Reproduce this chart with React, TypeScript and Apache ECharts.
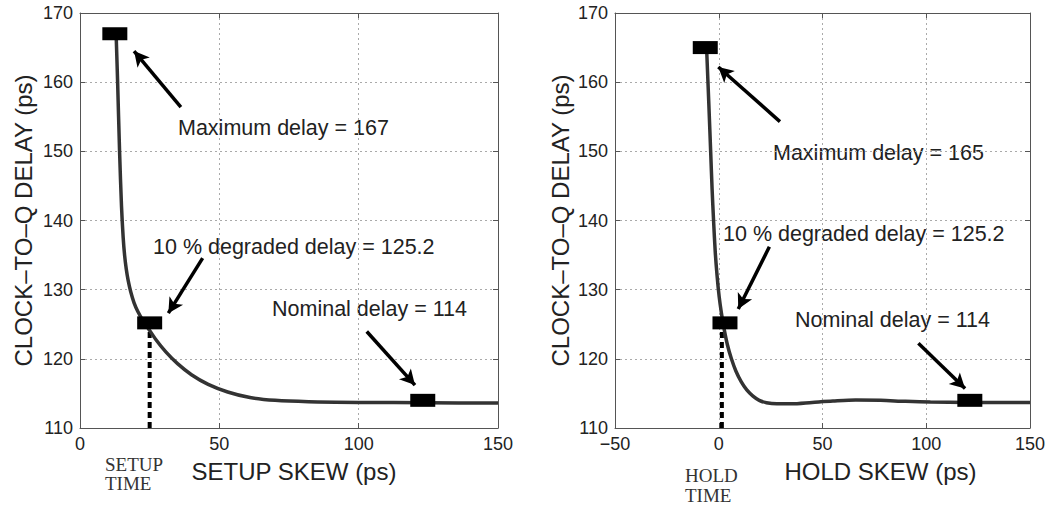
import React, { useEffect, useRef } from "react";
import * as echarts from "echarts";

// Setup-skew sweep (ps) and resulting clock-to-Q delay (ps)
const setupSkew = [13.0, 13.5, 14.2, 14.9, 15.5, 16.0, 16.6, 17.3, 18.2, 19.4, 20.8, 22.5, 24.5, 27.2, 30.8, 35, 40, 46, 53, 61, 70, 82, 100, 125, 150];
const setupDelay = [166.5, 160, 150, 142, 137.5, 135.0, 133.0, 131.3, 129.7, 128.1, 126.8, 125.6, 124.4, 122.8, 121.0, 119.3, 117.7, 116.3, 115.2, 114.4, 114.0, 113.8, 113.7, 113.65, 113.6];

// Hold-skew sweep (ps) and resulting clock-to-Q delay (ps)
const holdSkew = [-5.8, -4.8, -3.9, -3.2, -2.5, -1.7, -0.8, 0.2, 1.3, 2.6, 4.2, 6.1, 8.3, 10.8, 13.5, 16.5, 19.5, 23, 28, 35, 45, 55, 66, 78, 90, 102, 120, 150];
const holdDelay = [164.5, 157, 150, 144.5, 140, 135.5, 132, 129, 126.6, 124.3, 122.0, 120.0, 118.2, 116.7, 115.5, 114.6, 114.0, 113.65, 113.5, 113.5, 113.7, 113.9, 114.05, 114.0, 113.85, 113.75, 113.7, 113.7];

// Highlighted points: maximum, 10 % degraded and nominal delay
const setupMarkX = [12.5, 25, 123];
const setupMarkY = [167, 125.2, 114];
const holdMarkX = [-6.5, 3, 121];
const holdMarkY = [165, 125.2, 114];

// Setup / hold time (ps)
const setupTime = 25;
const holdTime = 1.5;

// Arrows: [fromX, fromY, toX, toY] in data units
const setupArrows = [
  [36.2, 156.4, 19.4, 164.5],
  [44.0, 134.55, 31.7, 126.6],
  [102.9, 123.95, 120.2, 116.2],
];
const holdArrows = [
  [29.5, 154.3, -0.2, 162.2],
  [24.4, 136.2, 9.4, 127.2],
  [96.2, 122.25, 118.7, 115.7],
];

const setupNotes = ["Maximum delay = 167", "10 % degraded delay = 125.2", "Nominal delay = 114"];
const holdNotes = ["Maximum delay = 165", "10 % degraded delay = 125.2", "Nominal delay = 114"];

const yTicks = { min: 110, max: 170, interval: 10 };
const setupX = { min: 0, max: 150, interval: 50 };
const holdX = { min: -50, max: 150, interval: 50 };

const SANS = '"Liberation Sans", Arial, Helvetica, sans-serif';
const SERIF = '"Liberation Serif", "Times New Roman", serif';
const TEXT = "#222";
const FRAME = "#555";

const fmt = (v: number) => (v < 0 ? "\u2212" + Math.abs(v) : String(v));

function mainXAxis(grid: number, range: any, name: string, pad: number[]) {
  return {
    type: "value",
    gridIndex: grid,
    position: "bottom",
    ...range,
    name,
    nameLocation: "middle",
    nameGap: 31,
    nameTextStyle: { fontFamily: SANS, fontSize: 24, color: TEXT, padding: pad },
    axisLine: { show: true, lineStyle: { color: FRAME, width: 1 } },
    axisTick: { show: true, inside: true, length: 5, lineStyle: { color: FRAME } },
    axisLabel: { fontFamily: SANS, fontSize: 18, color: TEXT, margin: 7, formatter: fmt },
    splitLine: { show: true, lineStyle: { color: "#aaa", type: [2, 3], width: 1 } },
  };
}

function frameXAxis(grid: number, range: any) {
  return {
    type: "value",
    gridIndex: grid,
    position: "top",
    ...range,
    axisLine: { show: true, onZero: false, lineStyle: { color: FRAME, width: 1 } },
    axisTick: { show: true, inside: true, length: 5, lineStyle: { color: FRAME } },
    axisLabel: { show: false },
    splitLine: { show: false },
  };
}

function mainYAxis(grid: number, gap: number) {
  return {
    type: "value",
    gridIndex: grid,
    position: "left",
    ...yTicks,
    name: "CLOCK\u2013TO\u2013Q DELAY (ps)",
    nameLocation: "middle",
    nameGap: gap,
    nameTextStyle: { fontFamily: SANS, fontSize: 24, color: TEXT },
    axisLine: { show: true, onZero: false, lineStyle: { color: FRAME, width: 1 } },
    axisTick: { show: true, inside: true, length: 5, lineStyle: { color: FRAME } },
    axisLabel: { fontFamily: SANS, fontSize: 18, color: TEXT, margin: 7 },
    splitLine: { show: true, lineStyle: { color: "#aaa", type: [2, 3], width: 1 } },
  };
}

function frameYAxis(grid: number) {
  return {
    type: "value",
    gridIndex: grid,
    position: "right",
    ...yTicks,
    axisLine: { show: true, onZero: false, lineStyle: { color: FRAME, width: 1 } },
    axisTick: { show: true, inside: true, length: 5, lineStyle: { color: FRAME } },
    axisLabel: { show: false },
    splitLine: { show: false },
  };
}

function panelSeries(
  xIdx: number,
  yIdx: number,
  xs: number[],
  ys: number[],
  markX: number[],
  markY: number[],
  refTime: number,
  arrows: number[][]
) {
  return [
    {
      type: "line",
      xAxisIndex: xIdx,
      yAxisIndex: yIdx,
      data: [
        [refTime, yTicks.min],
        [refTime, markY[1]],
      ],
      showSymbol: false,
      silent: true,
      lineStyle: { color: "#000", width: 4, type: [6, 4] },
      z: 2,
    },
    {
      type: "line",
      xAxisIndex: xIdx,
      yAxisIndex: yIdx,
      data: xs.map((x, i) => [x, ys[i]]),
      showSymbol: false,
      smooth: 0.3,
      silent: true,
      lineStyle: { color: "#333", width: 3.5 },
      z: 3,
    },
    {
      type: "scatter",
      xAxisIndex: xIdx,
      yAxisIndex: yIdx,
      data: markX.map((x, i) => [x, markY[i]]),
      symbol: "rect",
      symbolSize: [25, 13],
      itemStyle: { color: "#000", opacity: 1 },
      silent: true,
      z: 4,
      markLine: {
        silent: true,
        symbol: ["none", "arrow"],
        symbolSize: [12, 15],
        label: { show: false },
        lineStyle: { color: "#000", width: 3.5, type: "solid", opacity: 1 },
        data: arrows.map((a) => [{ coord: [a[0], a[1]] }, { coord: [a[2], a[3]] }]),
      },
    },
  ];
}

function note(text: string, x: number, y: number) {
  return {
    type: "text",
    x,
    y,
    silent: true,
    style: { text, fontFamily: SANS, fontSize: 21.5, fill: TEXT, align: "left", verticalAlign: "middle" },
  };
}

function serifNote(text: string, x: number, y: number) {
  return {
    type: "text",
    x,
    y,
    silent: true,
    style: { text, fontFamily: SERIF, fontSize: 19, fill: "#333", align: "left", verticalAlign: "middle" },
  };
}

export default function App() {
  const ref = useRef<HTMLDivElement>(null);

  useEffect(() => {
    if (!ref.current) return;
    const chart = echarts.init(ref.current, undefined, { renderer: "svg" });
    chart.setOption({
      animation: false,
      backgroundColor: "#fff",
      grid: [
        { left: 80, top: 13, width: 418, height: 415 },
        { left: 615, top: 13, width: 415, height: 415 },
      ],
      xAxis: [
        mainXAxis(0, setupX, "SETUP SKEW (ps)", [0, 0, 0, 10]),
        frameXAxis(0, setupX),
        mainXAxis(1, holdX, "HOLD SKEW (ps)", [0, 0, 0, 116]),
        frameXAxis(1, holdX),
      ],
      yAxis: [mainYAxis(0, 45), frameYAxis(0), mainYAxis(1, 43), frameYAxis(1)],
      series: [
        ...panelSeries(0, 0, setupSkew, setupDelay, setupMarkX, setupMarkY, setupTime, setupArrows),
        ...panelSeries(2, 2, holdSkew, holdDelay, holdMarkX, holdMarkY, holdTime, holdArrows),
      ],
      graphic: [
        note(setupNotes[0], 178, 128),
        note(setupNotes[1], 153, 247),
        note(setupNotes[2], 272, 309),
        note(holdNotes[0], 773, 153),
        note(holdNotes[1], 723, 234),
        note(holdNotes[2], 795, 320),
        serifNote("SETUP", 105, 464),
        serifNote("TIME", 105, 483),
        serifNote("HOLD", 685, 475),
        serifNote("TIME", 685, 495),
      ],
    });
    return () => chart.dispose();
  }, []);

  return (
    <div
      ref={ref}
      style={{ position: "absolute", left: 0, top: 0, width: 1056, height: 507, background: "#fff" }}
    />
  );
}
